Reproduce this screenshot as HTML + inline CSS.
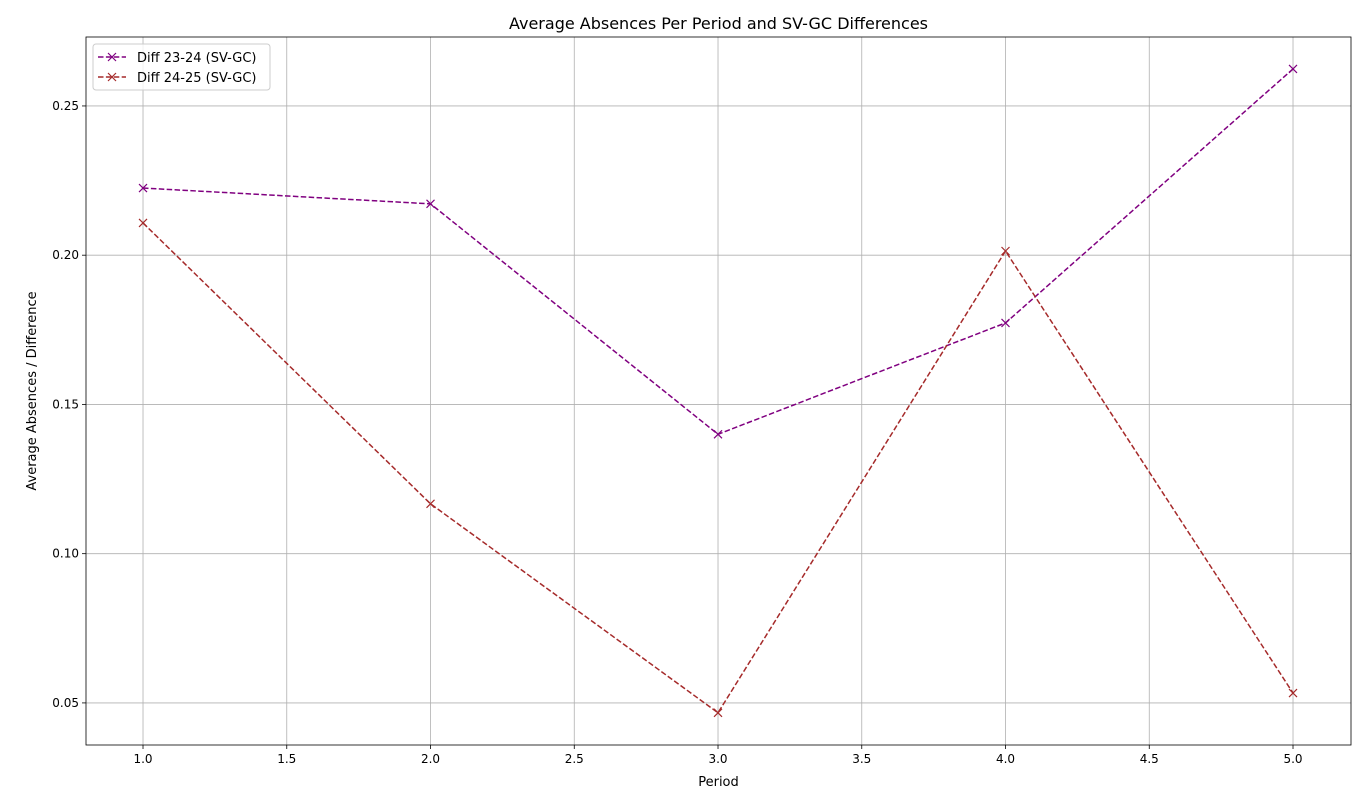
<!DOCTYPE html>
<html><head><meta charset="utf-8"><style>
body{margin:0;background:#fff;font-family:"Liberation Sans","DejaVu Sans",sans-serif;}
svg text{font-family:"DejaVu Sans","Liberation Sans",sans-serif;}
</style></head><body>
<svg id="chart" width="1368" height="804" xmlns="http://www.w3.org/2000/svg"></svg>
<script>
const periods=[1,2,3,4,5];
const diff2324=[0.2225,0.2172,0.1400,0.1773,0.2624];
const diff2425=[0.2108,0.1167,0.0467,0.2014,0.0533];
const xTicks=[1.0,1.5,2.0,2.5,3.0,3.5,4.0,4.5,5.0];
const yTicks=[0.05,0.10,0.15,0.20,0.25];
const L=86,R=1351,T=37,B=745,xMin=0.8017,xMax=5.2017,yMin=0.0359,yMax=0.2731;
const sx=v=>L+(v-xMin)/(xMax-xMin)*(R-L);
const sy=v=>B-(v-yMin)/(yMax-yMin)*(B-T);
const svg=document.getElementById('chart');
const NS='http://www.w3.org/2000/svg';
function mk(tag,attrs,parent){const e=document.createElementNS(NS,tag);for(const k in attrs)e.setAttribute(k,attrs[k]);(parent||svg).appendChild(e);return e;}
const grid=mk('g',{});


xTicks.forEach(t=>{const x=sx(t);
 mk('line',{x1:x,x2:x,y1:T,y2:B,stroke:'#b0b0b0','stroke-width':0.8},grid);
 mk('line',{x1:x,x2:x,y1:B,y2:B+4,stroke:'#000','stroke-width':0.8});
 const tx=mk('text',{x:x,y:B+18,'text-anchor':'middle','font-size':12});tx.textContent=t.toFixed(1);
 
 });
yTicks.forEach(t=>{const y=sy(t);
 mk('line',{x1:L,x2:R,y1:y,y2:y,stroke:'#b0b0b0','stroke-width':0.8},grid);
 mk('line',{x1:L-4,x2:L,y1:y,y2:y,stroke:'#000','stroke-width':0.8});
 const tx=mk('text',{x:L-7,y:y+4,'text-anchor':'end','font-size':12});tx.textContent=t.toFixed(2);
 
 });
function series(vals,color,name){
 const g=mk('g',{});
 
 
 mk('polyline',{points:periods.map((p,i)=>sx(p)+','+sy(vals[i])).join(' '),fill:'none',stroke:color,'stroke-width':1.5,'stroke-dasharray':'5.5,2.4'},g);
 periods.forEach((p,i)=>{const x=sx(p),y=sy(vals[i]);
  const m=mk('path',{d:`M${x-4},${y-4}L${x+4},${y+4}M${x-4},${y+4}L${x+4},${y-4}`,stroke:color,'stroke-width':1.2},g);
  
  });
}
series(diff2324,'#800080','series-diff-23-24');
series(diff2425,'#a52a2a','series-diff-24-25');
mk('rect',{x:L,y:T,width:R-L,height:B-T,fill:'none',stroke:'#000','stroke-width':0.8});
const title=mk('text',{x:(L+R)/2,y:29,'text-anchor':'middle','font-size':16});title.textContent='Average Absences Per Period and SV-GC Differences';


const xl=mk('text',{x:(L+R)/2,y:786,'text-anchor':'middle','font-size':13});xl.textContent='Period';


const yl=mk('text',{x:0,y:0,'text-anchor':'middle','font-size':13,transform:`translate(36,${(T+B)/2}) rotate(-90)`});yl.textContent='Average Absences / Difference';


const lg=mk('g',{});


mk('rect',{x:93,y:44,width:177,height:46,rx:3,fill:'#fff','fill-opacity':0.8,stroke:'#ccc'},lg);
[['Diff 23-24 (SV-GC)','#800080',57],['Diff 24-25 (SV-GC)','#a52a2a',77]].forEach(([lab,c,y])=>{
 const e=mk('g',{},lg);
 
 
 mk('line',{x1:98,x2:126,y1:y,y2:y,stroke:c,'stroke-width':1.5,'stroke-dasharray':'5.5,2.4'},e);
 mk('path',{d:`M108,${y-4}L116,${y+4}M108,${y+4}L116,${y-4}`,stroke:c,'stroke-width':1.2},e);
 const t=mk('text',{x:137,y:y+5,'font-size':13},e);t.textContent=lab;});
</script>
</body></html>
